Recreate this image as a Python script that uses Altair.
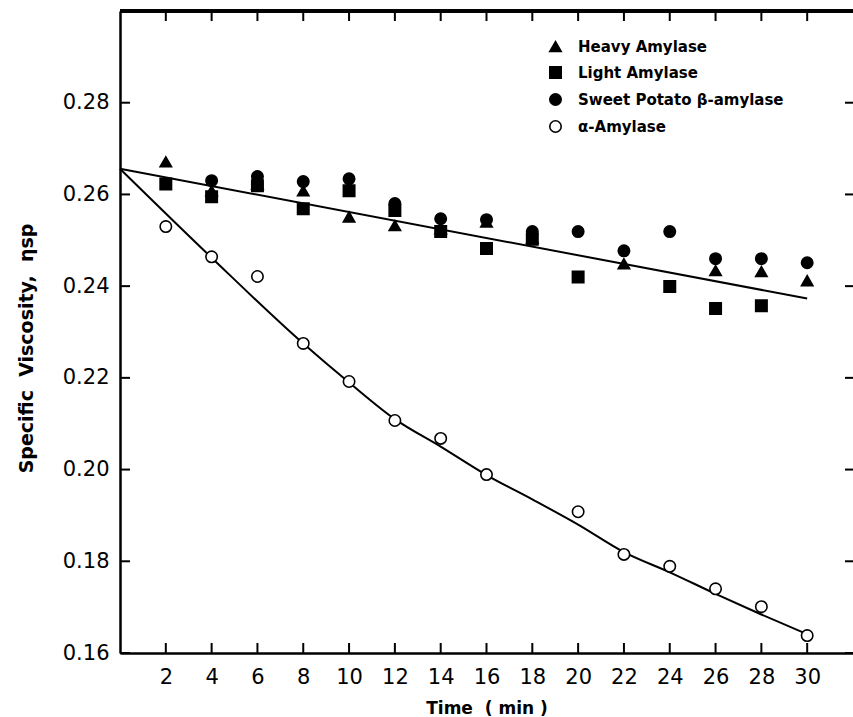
import altair as alt
import pandas as pd

# ---------------- data ----------------
series_names = ["Heavy Amylase", "Light Amylase", "Sweet Potato β-amylase", "α-Amylase"]

heavy_t = [2, 4, 6, 8, 10, 12, 14, 16, 18, 22, 26, 28, 30]
heavy_v = [0.2671, 0.2608, 0.2622, 0.2608, 0.2551, 0.2532, 0.2525, 0.2540, 0.2505, 0.2449, 0.2434, 0.2432, 0.2412]

light_t = [2, 4, 6, 8, 10, 12, 14, 16, 18, 20, 24, 26, 28]
light_v = [0.2623, 0.2595, 0.2619, 0.2569, 0.2608, 0.2565, 0.2519, 0.2482, 0.2502, 0.2420, 0.2399, 0.2351, 0.2357]

sweet_t = [4, 6, 8, 10, 12, 14, 16, 18, 20, 22, 24, 26, 28, 30]
sweet_v = [0.2630, 0.2639, 0.2628, 0.2634, 0.2580, 0.2547, 0.2545, 0.2519, 0.2519, 0.2477, 0.2519, 0.2460, 0.2460, 0.2451]

alpha_t = [2, 4, 6, 8, 10, 12, 14, 16, 20, 22, 24, 26, 28, 30]
alpha_v = [0.2530, 0.2464, 0.2421, 0.2275, 0.2192, 0.2107, 0.2068, 0.1989, 0.1908, 0.1815, 0.1789, 0.1740, 0.1701, 0.1638]

# fitted lines drawn on the figure
beta_line_t = [0, 30]
beta_line_v = [0.2656, 0.2373]
alpha_line_t = [0, 4, 8, 10, 12, 14, 16, 18, 20, 22, 24, 26, 28, 30]
alpha_line_v = [0.2656, 0.2462, 0.2275, 0.2190, 0.2110, 0.2050, 0.1988, 0.1935,
                0.1880, 0.1820, 0.1776, 0.1729, 0.1684, 0.1641]

x_ticks = [2, 4, 6, 8, 10, 12, 14, 16, 18, 20, 22, 24, 26, 28, 30]
y_ticks = [0.16, 0.18, 0.20, 0.22, 0.24, 0.26, 0.28]

# ---------------- tables ----------------
rows = []
for name, ts, vs in zip(series_names,
                        [heavy_t, light_t, sweet_t, alpha_t],
                        [heavy_v, light_v, sweet_v, alpha_v]):
    for t, v in zip(ts, vs):
        rows.append({"time": t, "value": v, "series": name})
pts = pd.DataFrame(rows)

lrows = []
for name, ts, vs in [("beta", beta_line_t, beta_line_v), ("alpha", alpha_line_t, alpha_line_v)]:
    for t, v in zip(ts, vs):
        lrows.append({"time": t, "value": v, "line": name})
lines_df = pd.DataFrame(lrows)

xt_df = pd.DataFrame({"time": x_ticks})
yt_df = pd.DataFrame({"value": y_ticks})

W, H = 733, 642
NB = "\u00a0"

x_scale = alt.Scale(domain=[0, 32], nice=False, zero=False)
y_scale = alt.Scale(domain=[0.16, 0.30], nice=False, zero=False)

x_axis = alt.Axis(values=x_ticks, title="Time" + NB * 2 + "( min )", grid=False, ticks=False, tickSize=0,
                  labelFont="DejaVu Sans", labelFontSize=21, labelPadding=13, labelColor="black",
                  domainColor="black", domainWidth=2.5,
                  titleFont="DejaVu Sans", titleFontSize=17, titleFontWeight="bold",
                  titleColor="black", titlePadding=13)
y_axis = alt.Axis(values=y_ticks, format=".2f",
                  title="Specific" + NB * 2 + "Viscosity," + NB * 2 + "ηsp", grid=False,
                  ticks=False, tickSize=0,
                  labelFont="DejaVu Sans", labelFontSize=21, labelPadding=11, labelColor="black",
                  domainColor="black", domainWidth=2.5,
                  titleFont="DejaVu Sans", titleFontSize=19, titleFontWeight="bold",
                  titleColor="black", titlePadding=26, titleY=337)

X = alt.X("time:Q", scale=x_scale, axis=x_axis)
Y = alt.Y("value:Q", scale=y_scale, axis=y_axis)

lines = alt.Chart(lines_df).mark_line(color="black", strokeWidth=2, interpolate="monotone").encode(
    x=X, y=Y, detail="line:N"
)

points = alt.Chart(pts).mark_point(opacity=1, strokeWidth=1.6, size=130).encode(
    x=X, y=Y,
    shape=alt.Shape("series:N", scale=alt.Scale(domain=series_names,
                    range=["triangle-up", "square", "circle", "circle"]),
                    legend=alt.Legend(title=None)),
    fill=alt.Fill("series:N", scale=alt.Scale(domain=series_names,
                  range=["black", "black", "black", "white"]),
                  legend=alt.Legend(title=None)),
    stroke=alt.Stroke("series:N", scale=alt.Scale(domain=series_names,
                      range=["black", "black", "black", "black"]),
                      legend=alt.Legend(title=None)),
)

top_frame = alt.Chart(xt_df).mark_rule(color="black", strokeWidth=2.5).encode(
    x=alt.value(0), x2=alt.value(W), y=alt.value(0)
)
xt_bottom = alt.Chart(xt_df).mark_rule(color="black", strokeWidth=2).encode(
    x=X, y=alt.value(H), y2=alt.value(H - 10)
)
xt_top = alt.Chart(xt_df).mark_rule(color="black", strokeWidth=2).encode(
    x=X, y=alt.value(0), y2=alt.value(10)
)
yt_left = alt.Chart(yt_df).mark_rule(color="black", strokeWidth=2).encode(
    y=Y, x=alt.value(0), x2=alt.value(10)
)
yt_right = alt.Chart(yt_df).mark_rule(color="black", strokeWidth=2).encode(
    y=Y, x=alt.value(W - 8), x2=alt.value(W)
)

chart = alt.layer(lines, points, top_frame, xt_bottom, xt_top, yt_left, yt_right).properties(
    width=W, height=H,
    padding={"left": 120, "top": 11, "right": 0, "bottom": 64},
    autosize=alt.AutoSizeParams(type="none"),
    background="white",
).configure_view(stroke=None).configure_legend(
    orient="none", legendX=428, legendY=28,
    labelFont="DejaVu Sans", labelFontSize=15, labelFontWeight="bold", labelColor="black",
    labelLimit=400,
    symbolSize=130, symbolStrokeWidth=1.6, symbolOpacity=1,
    rowPadding=8, labelOffset=15, padding=0,
)

chart.save("out.html", embed_options={"renderer": "svg", "actions": False})
